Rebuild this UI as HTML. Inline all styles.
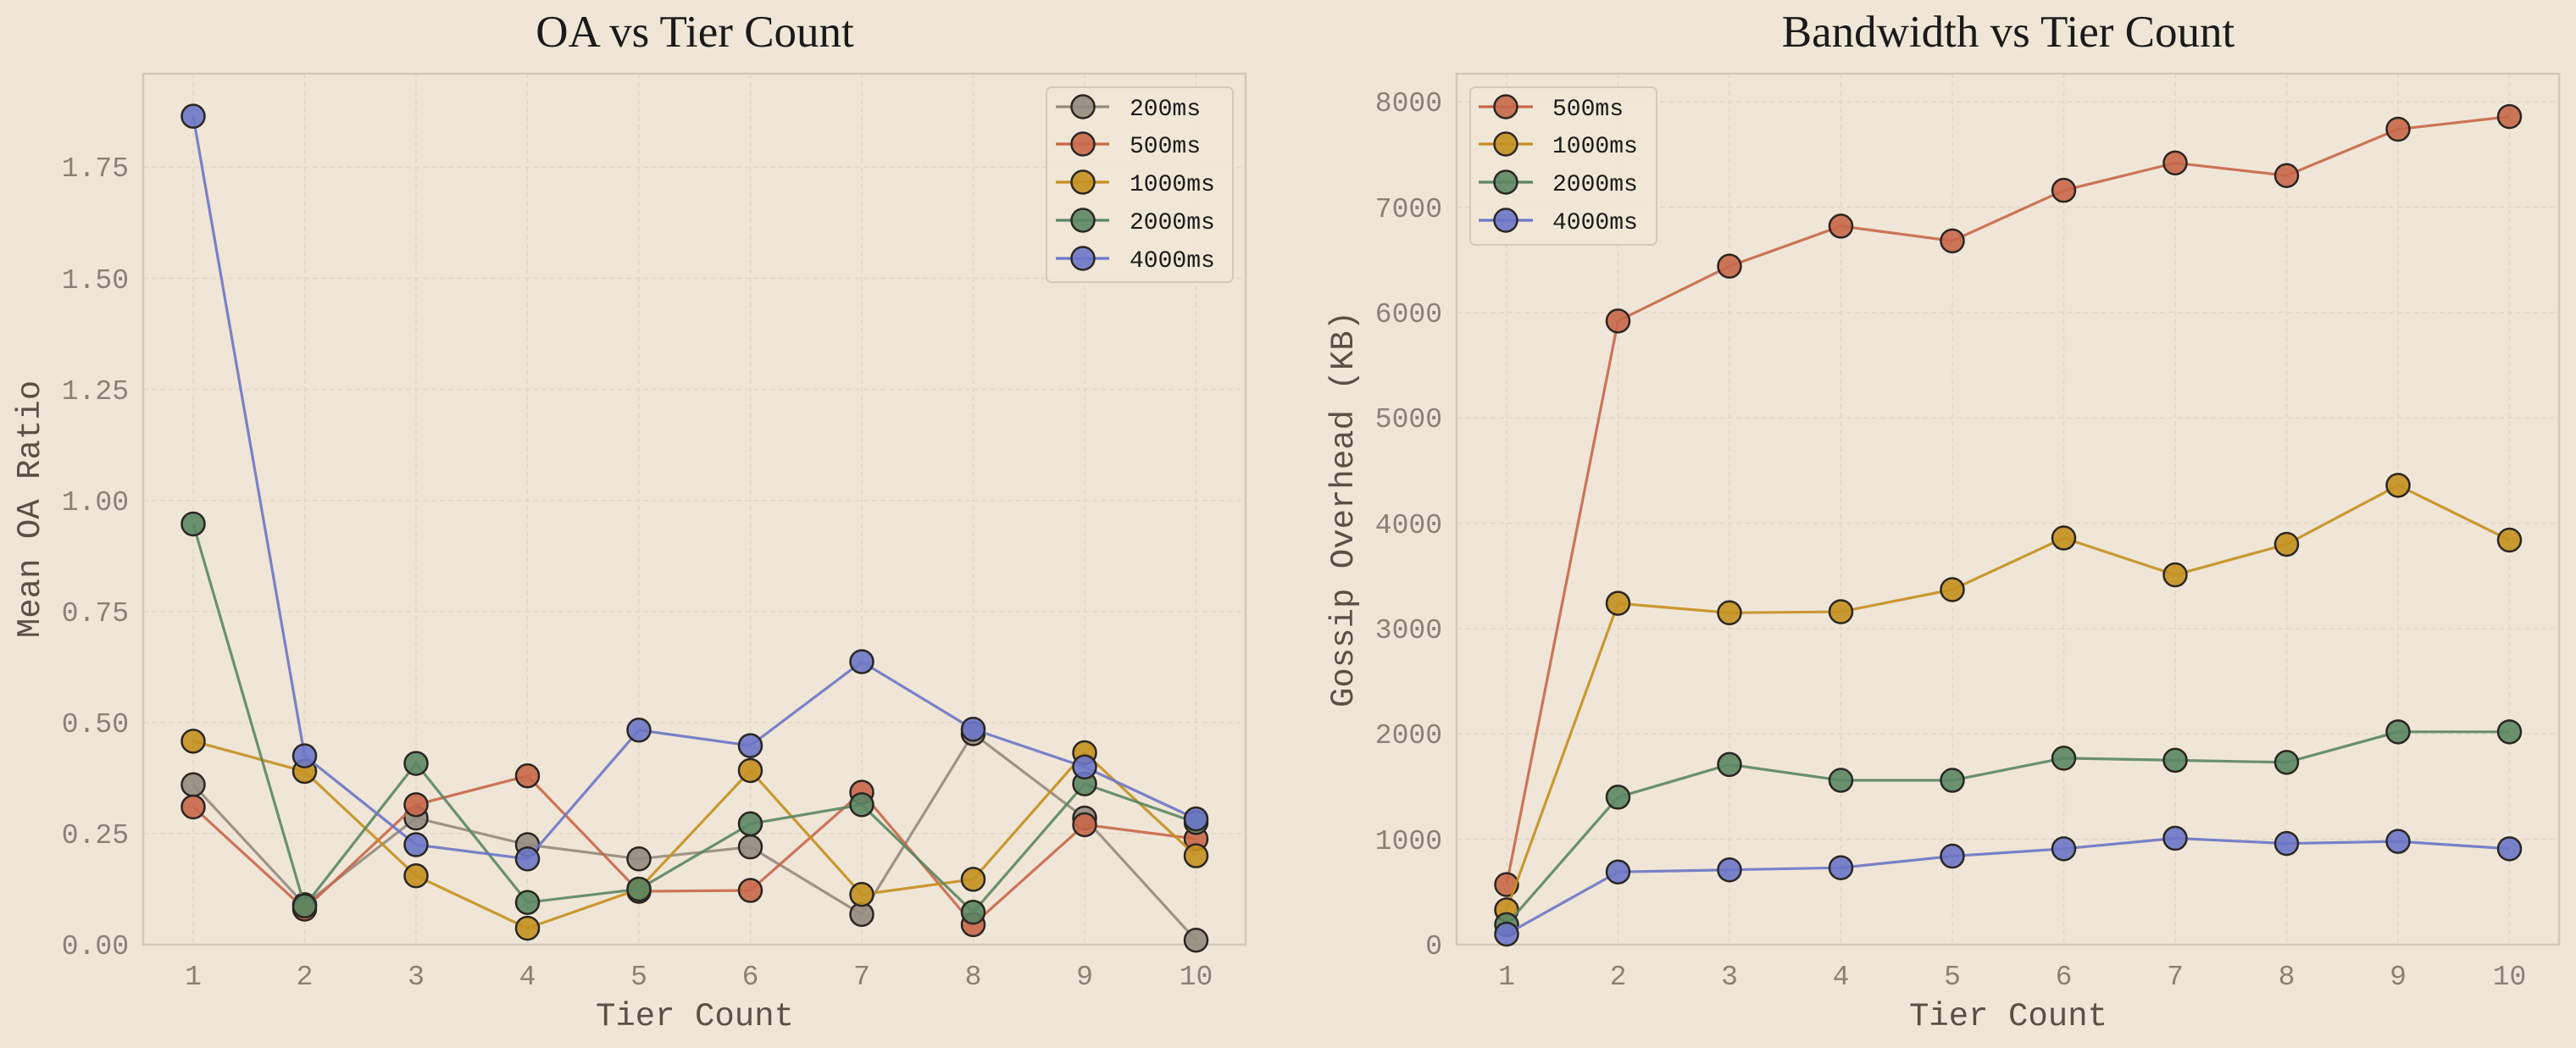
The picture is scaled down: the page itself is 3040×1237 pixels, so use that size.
<!DOCTYPE html>
<html><head><meta charset="utf-8"><style>
html,body{margin:0;padding:0;background:#f0e6d7;overflow:hidden}
svg{display:block}
.t{font-family:"Liberation Serif",serif;font-size:53px;fill:#1a1a1a;text-anchor:middle}
.tk{font-family:"Liberation Mono",monospace;font-size:33px;fill:#8a8078}
.al{font-family:"Liberation Mono",monospace;font-size:39px;fill:#5a5048;text-anchor:middle}
.lg{font-family:"Liberation Mono",monospace;font-size:28px;fill:#1a1a1a}
</style></head><body>
<svg id="s" width="3040" height="1237" viewBox="0 0 3040 1237" xmlns="http://www.w3.org/2000/svg">
<rect width="3040" height="1237" fill="#f0e6d7"/>
<g id="grid"></g>
<rect x="169" y="87" width="1301" height="1028" fill="none" stroke="#d3c9b9" stroke-width="2.5"/>
<rect x="1719" y="87" width="1301" height="1028" fill="none" stroke="#d3c9b9" stroke-width="2.5"/>
<text class="t" x="820" y="55">OA vs Tier Count</text>
<text class="t" x="2370" y="55">Bandwidth vs Tier Count</text>
<g class="tk" text-anchor="end" id="yt">
<text x="152" y="1126">0.00</text><text x="152" y="995">0.25</text><text x="152" y="864">0.50</text><text x="152" y="733">0.75</text><text x="152" y="602">1.00</text><text x="152" y="471">1.25</text><text x="152" y="340">1.50</text><text x="152" y="208">1.75</text>
<text x="1702" y="1126">0</text><text x="1702" y="1002">1000</text><text x="1702" y="877">2000</text><text x="1702" y="753">3000</text><text x="1702" y="629">4000</text><text x="1702" y="504">5000</text><text x="1702" y="380">6000</text><text x="1702" y="256">7000</text><text x="1702" y="131">8000</text>
</g>
<g class="tk" text-anchor="middle">
<text x="228" y="1162">1</text><text x="359.5" y="1162">2</text><text x="491" y="1162">3</text><text x="622.5" y="1162">4</text><text x="754" y="1162">5</text><text x="885.5" y="1162">6</text><text x="1017" y="1162">7</text><text x="1148.5" y="1162">8</text><text x="1280" y="1162">9</text><text x="1411.5" y="1162">10</text>
<text x="1778" y="1162">1</text><text x="1909.5" y="1162">2</text><text x="2041" y="1162">3</text><text x="2172.5" y="1162">4</text><text x="2304" y="1162">5</text><text x="2435.5" y="1162">6</text><text x="2567" y="1162">7</text><text x="2698.5" y="1162">8</text><text x="2830" y="1162">9</text><text x="2961.5" y="1162">10</text>
</g>
<text class="al" x="820" y="1210">Tier Count</text>
<text class="al" x="2370" y="1210">Tier Count</text>
<text class="al" transform="translate(46,601) rotate(-90)">Mean OA Ratio</text>
<text class="al" transform="translate(1596,601) rotate(-90)">Gossip Overhead (KB)</text>
<g id="data"></g>
<rect x="1235" y="103" width="220" height="230" rx="6" fill="#f0e6d7" fill-opacity="0.85" stroke="#d3c9b9" stroke-width="2"/>
<rect x="1735" y="103" width="220" height="186" rx="6" fill="#f0e6d7" fill-opacity="0.85" stroke="#d3c9b9" stroke-width="2"/>
<g id="leg"></g>
<g class="lg">
<text x="1333" y="136">200ms</text><text x="1333" y="180">500ms</text><text x="1333" y="225">1000ms</text><text x="1333" y="270">2000ms</text><text x="1333" y="315">4000ms</text>
<text x="1832" y="136">500ms</text><text x="1832" y="180">1000ms</text><text x="1832" y="225">2000ms</text><text x="1832" y="270">4000ms</text>
</g>
</svg>
<script>
var NS="http://www.w3.org/2000/svg";
function el(p,t,a){var e=document.createElementNS(NS,t);for(var k in a)e.setAttribute(k,a[k]);p.appendChild(e);return e;}
var G=document.getElementById('grid'),D=document.getElementById('data'),L=document.getElementById('leg');
var C={g:'#948b7f',r:'#c8674a',y:'#c4901f',gr:'#5b8662',b:'#6b76c6'};
var B=1115,KL=524.3,KR=0.12435;
for(var i=0;i<10;i++){[228,1778].forEach(function(x0){var x=x0+131.5*i;el(G,'line',{x1:x,x2:x,y1:87,y2:B,stroke:'#e2d8c6','stroke-width':1.5,'stroke-dasharray':'6,4'});});}
for(var j=1;j<8;j++){var y=B-j*0.25*KL;el(G,'line',{x1:169,x2:1470,y1:y,y2:y,stroke:'#e2d8c6','stroke-width':1.5,'stroke-dasharray':'6,4'});}
for(var j=1;j<9;j++){var y=B-j*1000*KR;el(G,'line',{x1:1719,x2:3020,y1:y,y2:y,stroke:'#e2d8c6','stroke-width':1.5,'stroke-dasharray':'6,4'});}
function series(x0,f,vals,c){var pts=vals.map(function(v,i){return [x0+131.5*i,f(v)];});
el(D,'polyline',{points:pts.map(function(p){return p.join(',')}).join(' '),fill:'none',stroke:c,'stroke-width':3.2,'stroke-opacity':0.9});
pts.forEach(function(p){el(D,'circle',{cx:p[0],cy:p[1],r:13.5,fill:c,'fill-opacity':0.9,stroke:'#2a2622','stroke-width':2.5});});}
var fl=function(v){return B-v*KL},fr=function(v){return B-v*KR};
series(228,fl,[0.36,0.09,0.285,0.225,0.193,0.22,0.068,0.475,0.285,0.01],C.g);
series(228,fl,[0.31,0.08,0.315,0.38,0.12,0.122,0.343,0.045,0.27,0.238],C.r);
series(228,fl,[0.458,0.39,0.155,0.037,0.125,0.392,0.113,0.147,0.432,0.2],C.y);
series(228,fl,[0.947,0.087,0.408,0.095,0.125,0.272,0.315,0.073,0.362,0.275],C.gr);
series(228,fl,[1.865,0.425,0.225,0.193,0.483,0.448,0.637,0.485,0.4,0.283],C.b);
series(1778,fr,[570,5920,6440,6820,6680,7160,7420,7300,7740,7860],C.r);
series(1778,fr,[330,3240,3150,3160,3370,3860,3510,3800,4360,3840],C.y);
series(1778,fr,[190,1400,1710,1560,1560,1770,1750,1730,2020,2020],C.gr);
series(1778,fr,[100,690,710,730,840,910,1010,960,980,910],C.b);
function leg(x1,x2,cx,y,c){el(L,'line',{x1:x1,x2:x2,y1:y,y2:y,stroke:c,'stroke-width':3.2});el(L,'circle',{cx:cx,cy:y,r:13.5,fill:c,'fill-opacity':0.9,stroke:'#2a2622','stroke-width':2.5});}
[[126,C.g],[170,C.r],[215,C.y],[260,C.gr],[305,C.b]].forEach(function(a){leg(1246,1309,1278,a[0],a[1]);});
[[126,C.r],[170,C.y],[215,C.gr],[260,C.b]].forEach(function(a){leg(1745,1809,1777,a[0],a[1]);});
</script>
</body></html>
